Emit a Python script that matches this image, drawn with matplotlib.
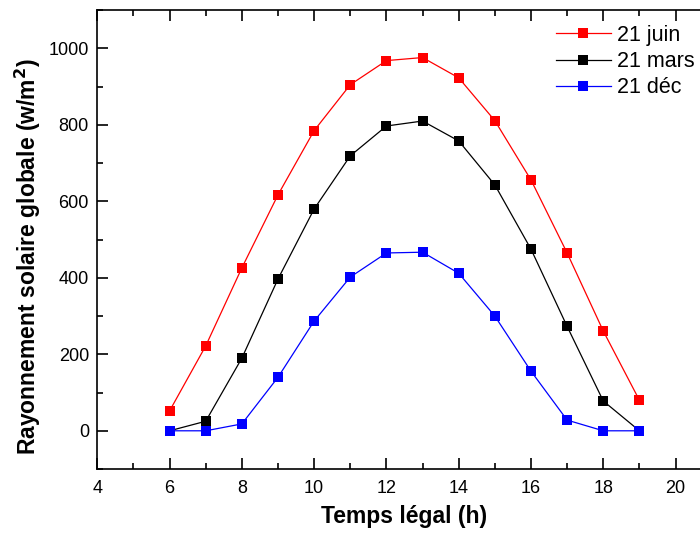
import matplotlib
matplotlib.use("Agg")
import matplotlib.pyplot as plt
from matplotlib.ticker import MultipleLocator

plt.rcParams['font.family'] = ['Liberation Sans', 'DejaVu Sans']

hours = [6, 7, 8, 9, 10, 11, 12, 13, 14, 15, 16, 17, 18, 19]
juin = [52, 222, 426, 617, 785, 905, 968, 976, 923, 811, 656, 465, 261, 80]
mars = [0, 25, 190, 397, 580, 719, 797, 810, 758, 643, 475, 273, 78, 0]
dec = [0, 0, 18, 140, 287, 402, 465, 467, 412, 300, 156, 28, 0, 0]
labels = ["21 juin", "21 mars", "21 déc"]

fig = plt.figure(figsize=(7, 5.33), dpi=100)
ax = fig.add_axes([0.139, 0.12, 17 * 36.14 / 700, 0.861])

for y, c, lab in zip([juin, mars, dec], ["#ff0000", "#000000", "#0000ff"], labels):
    ax.plot(hours, y, color=c, lw=0.9, marker='s', markersize=6.5, markeredgewidth=0,
            label=lab)

ax.set_xlim(4, 21)
ax.set_ylim(-100, 1100)
ax.set_xticks(range(4, 21, 2))
ax.xaxis.set_minor_locator(MultipleLocator(1))
ax.yaxis.set_major_locator(MultipleLocator(200))
ax.yaxis.set_minor_locator(MultipleLocator(100))
ax.tick_params(which='major', direction='in', length=8, width=1.2, labelsize=13,
               top=True, right=False)
ax.tick_params(which='minor', direction='in', length=4, width=1.2, top=True, right=False)
ax.tick_params(axis='x', which='major', pad=8)
ax.tick_params(axis='y', which='major', pad=6)
for s in ['left', 'bottom', 'top']:
    ax.spines[s].set_linewidth(1.2)
ax.spines['right'].set_visible(False)

ax.set_xlabel("Temps légal (h)", fontsize=16.5, fontweight='bold', labelpad=6)
ax.set_ylabel("Rayonnement solaire globale (w/m$^\\mathbf{2}$)", fontsize=16.5, fontweight='bold')
ax.yaxis.set_label_coords(-0.088, 0.462)

fig.legend(loc='upper right', bbox_to_anchor=(1.02, 0.99), frameon=False, fontsize=15.5,
           handlelength=2.55, handletextpad=0.3, labelspacing=0.25)

fig.savefig("out.png", dpi=100)
